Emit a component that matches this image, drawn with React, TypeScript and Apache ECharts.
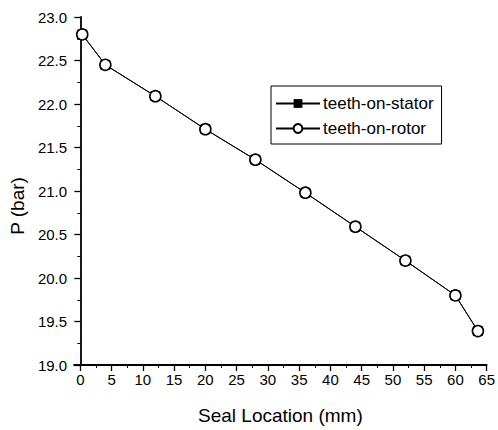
import React, { useEffect, useRef } from "react";
import * as echarts from "echarts";

const sealLocation = [0.3, 4, 12, 20, 28, 36, 44, 52, 60, 63.6];
const statorP = [22.8, 22.45, 22.09, 21.71, 21.36, 20.98, 20.59, 20.2, 19.8, 19.39];
const rotorP = [22.8, 22.45, 22.09, 21.71, 21.36, 20.98, 20.59, 20.2, 19.8, 19.39];
const xMajorTicks = [0, 5, 10, 15, 20, 25, 30, 35, 40, 45, 50, 55, 60, 65];
const xMinorTicks = [2.5, 7.5, 12.5, 17.5, 22.5, 27.5, 32.5, 37.5, 42.5, 47.5, 52.5, 57.5, 62.5];

const FONT = "Liberation Sans";

export default function App() {
  const ref = useRef<HTMLDivElement>(null);
  useEffect(() => {
    if (!ref.current) return;
    const chart = echarts.init(ref.current, null, { renderer: "svg" });
    const pairs = (ys: number[]) => sealLocation.map((x, i) => [x, ys[i]]);
    chart.setOption({
      animation: false,
      backgroundColor: "#fff",
      textStyle: { fontFamily: FONT },
      grid: { left: 73, right: 10, top: 17, bottom: 63, containLabel: false },
      legend: {
        orient: "vertical",
        left: 271,
        top: 86,
        width: 172,
        padding: [9, 8, 7, 4],
        itemGap: 8,
        itemWidth: 44,
        itemHeight: 11,
        borderColor: "#000",
        borderWidth: 1,
        backgroundColor: "#fff",
        textStyle: { fontFamily: FONT, fontSize: 17, color: "#000", padding: [0, 0, 0, -2] },
        data: ["teeth-on-stator", "teeth-on-rotor"],
      },
      xAxis: [
        {
          type: "value",
          min: -1,
          max: 65,
          name: "Seal Location (mm)",
          nameLocation: "middle",
          nameGap: 41,
          nameTextStyle: { fontFamily: FONT, fontSize: 19, color: "#000" },
          axisLine: { show: true, lineStyle: { color: "#000", width: 1.8 } },
          axisTick: { show: true, inside: false, length: 6, customValues: xMajorTicks, lineStyle: { color: "#000", width: 1.3 } },
          axisLabel: { customValues: xMajorTicks, fontFamily: FONT, fontSize: 15, color: "#000", margin: 7 },
          splitLine: { show: false },
        },
        {
          type: "value",
          min: -1,
          max: 65,
          position: "bottom",
          axisLine: { show: false },
          axisTick: { show: true, inside: false, length: 3, customValues: xMinorTicks, lineStyle: { color: "#000", width: 1 } },
          axisLabel: { show: false, customValues: xMinorTicks },
          splitLine: { show: false },
        },
      ],
      yAxis: {
        type: "value",
        min: 19,
        max: 23,
        interval: 0.5,
        name: "P (bar)",
        nameLocation: "middle",
        nameGap: 47,
        nameTextStyle: { fontFamily: FONT, fontSize: 19, color: "#000", padding: [0, 30, 0, 0] },
        axisLine: { show: true, lineStyle: { color: "#000", width: 1.8 } },
        axisTick: { show: true, inside: false, length: 6, lineStyle: { color: "#000", width: 1.3 } },
        minorTick: { show: true, splitNumber: 2, length: 3, lineStyle: { color: "#000", width: 1 } },
        axisLabel: { fontFamily: FONT, fontSize: 15, color: "#000", margin: 7, formatter: (v: number) => v.toFixed(1) },
        splitLine: { show: false },
      },
      series: [
        {
          name: "teeth-on-stator",
          type: "line",
          data: pairs(statorP),
          symbol: "rect",
          symbolSize: 9,
          itemStyle: { color: "#000", borderColor: "#000" },
          lineStyle: { color: "#000", width: 1 },
        },
        {
          name: "teeth-on-rotor",
          type: "line",
          data: pairs(rotorP),
          symbol: "circle",
          symbolSize: 11,
          itemStyle: { color: "#fff", borderColor: "#000", borderWidth: 1.6 },
          lineStyle: { color: "#000", width: 1 },
        },
      ],
    });
    return () => chart.dispose();
  }, []);
  return <div ref={ref} style={{ width: 498, height: 430, position: "absolute", left: 0, top: 0 }} />;
}
